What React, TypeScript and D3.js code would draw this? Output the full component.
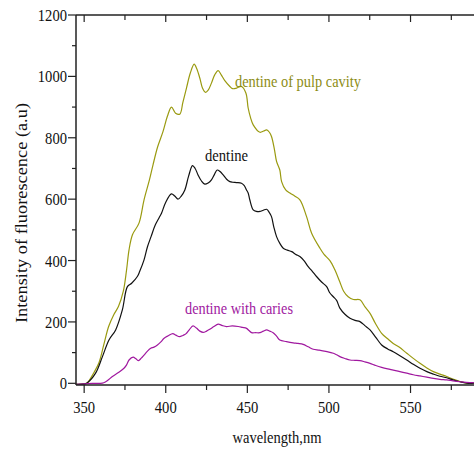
import React from "react";
import * as d3 from "d3";

const wavelengthPulp = [345, 350, 352, 356, 359, 362, 365, 368, 371, 374, 376, 377.5, 379.6, 383.6, 386.7, 390, 392.2, 395, 398.3, 401, 403.5, 406, 408.6, 410.5, 412.7, 415, 417.4, 419, 420.9, 422.5, 424.4, 426, 428, 430, 432.1, 434, 436.2, 439.3, 441, 443.4, 446.4, 449.1, 450.5, 452, 453.6, 457.7, 460, 461.8, 463.5, 464.8, 466.5, 467.9, 469.9, 471, 473.5, 476.1, 479, 482.2, 486.3, 489.4, 494.5, 497, 500.6, 503.7, 506.7, 509, 511.8, 515, 519, 522, 525.2, 528.5, 532.3, 536, 539.4, 543, 547.7, 551.5, 555.8, 560, 564, 568, 572.2, 576, 580.4, 585.5, 590];
const intensityPulp = [-3, -2, 2, 35, 66, 125, 185, 222, 250, 300, 370, 435, 484, 522, 598, 663, 712, 770, 820, 870, 900, 880, 877, 915, 962, 1010, 1040, 1025, 994, 962, 948, 955, 978, 1005, 1019, 1005, 986, 967, 960, 962, 967, 946, 897, 865, 842, 818, 822, 826, 818, 804, 765, 723, 695, 657, 630, 620, 610, 598, 543, 489, 440, 420, 400, 369, 330, 300, 282, 273, 272, 250, 228, 195, 163, 145, 130, 118, 98, 82, 65, 50, 38, 30, 22, 14, 6, 0, 1];

const wavelengthDentine = [345, 350, 352, 357, 361.2, 365.2, 369.3, 373.4, 376.5, 379.1, 382.6, 384, 386.7, 388.8, 391, 393.5, 396, 397.4, 400, 403.5, 405.5, 407.5, 409.5, 411.7, 414, 416.4, 418, 419.8, 421.8, 423.9, 426, 428, 429.8, 431.5, 433.3, 435.2, 437.3, 439.3, 441, 443.4, 446.4, 448, 449.5, 450.5, 451.5, 453.6, 455.5, 457.7, 459.8, 461.8, 463.3, 464.8, 466.2, 467.9, 470, 472, 474.5, 477.2, 479.7, 482.2, 484.7, 487.3, 489.8, 492.4, 495.5, 498.6, 500.5, 502.7, 504.7, 506.7, 509.8, 512.9, 516, 519, 522, 525.2, 528.7, 532.3, 536, 539.4, 543.5, 547.7, 551.7, 555.8, 560, 564, 568, 572.2, 576, 580.4, 585.5, 590];
const intensityDentine = [-3, -2, 2, 33, 87, 141, 174, 239, 315, 326, 348, 364, 402, 445, 478, 515, 540, 554, 590, 617, 610, 600, 610, 630, 675, 709, 700, 679, 660, 649, 653, 663, 680, 695, 690, 679, 665, 657, 655, 654, 652, 645, 630, 620, 598, 565, 560, 560, 564, 567, 558, 543, 510, 478, 455, 440, 434, 429, 420, 413, 400, 380, 365, 348, 330, 315, 295, 282, 270, 245, 225, 212, 205, 201, 188, 174, 150, 125, 112, 103, 90, 76, 62, 49, 38, 30, 23, 18, 11, 5, 0, 1];

const wavelengthCaries = [345, 350, 355, 360, 362, 364.5, 367.3, 371, 374.4, 376, 377.5, 380, 381.7, 383.3, 385, 386.7, 388.8, 390.8, 392.8, 394.9, 397, 399, 401.5, 404.3, 406.2, 408.5, 410.5, 412.3, 414.5, 416.7, 418.8, 420.9, 422.9, 425, 427, 429.5, 432.1, 434.7, 437.2, 440.8, 444.4, 447, 449.5, 451, 452.6, 455, 457.7, 459.8, 461.8, 463.8, 465.8, 468, 469.9, 474, 478.1, 481, 484.2, 487.3, 490.4, 494, 498, 502.7, 504.7, 506.7, 509.8, 512.9, 516, 519, 522, 525.2, 528.7, 532.3, 536, 539.4, 543.5, 547.7, 551.7, 555.8, 560, 564, 568, 572.2, 576, 580.4, 584, 588.5, 590];
const intensityCaries = [-3, -2, 0, 0, 2, 10, 22, 35, 49, 60, 76, 85, 80, 74, 82, 92, 105, 114, 118, 125, 135, 147, 155, 162, 157, 152, 156, 161, 175, 187, 180, 170, 166, 170, 176, 185, 193, 188, 185, 187, 185, 182, 179, 172, 165, 165, 165, 170, 174, 170, 165, 153, 141, 136, 132, 130, 127, 119, 111, 108, 104, 98, 93, 87, 81, 76, 75, 74, 70, 65, 58, 52, 47, 43, 38, 33, 28, 24, 20, 16, 13, 11, 8, 5, 3, 2, 1];

const xTicks = [350, 400, 450, 500, 550];
const xMinorTicks = [375, 425, 475, 525, 575];
const yTicks = [0, 200, 400, 600, 800, 1000, 1200];
const yMinorTicks = [100, 300, 500, 700, 900, 1100];

const seriesNames = ["dentine of pulp cavity", "dentine", "dentine with caries"];
const xTitle = "wavelength,nm";
const yTitle = "Intensity of fluorescence (a.u)";

const W = 474;
const H = 449;
const FONT = "'Liberation Serif', 'Times New Roman', serif";

export default function App() {
  const x = d3.scaleLinear().domain([345, 590]).range([76, 475.8]);
  const y = d3.scaleLinear().domain([-5.5, 1200]).range([385, 15]);
  const line = d3
    .line<[number, number]>()
    .x((d) => x(d[0]))
    .y((d) => y(d[1]))
    .curve(d3.curveCatmullRom.alpha(0.5));

  const mk = (ws: number[], vs: number[]) => ws.map((w, i) => [w, vs[i]] as [number, number]);
  const series = [
    { name: seriesNames[0], data: mk(wavelengthPulp, intensityPulp), color: "#9a9a10", text: "#8c8c14", lx: 235, ly: 87, lw: 126 },
    { name: seriesNames[1], data: mk(wavelengthDentine, intensityDentine), color: "#111111", text: "#111111", lx: 205, ly: 161, lw: 43 },
    { name: seriesNames[2], data: mk(wavelengthCaries, intensityCaries), color: "#a0189f", text: "#a0209f", lx: 185, ly: 314, lw: 108 },
  ];

  const axisColor = "#222";
  const left = 76;
  const bottom = 385;
  const top = 15;

  return (
    <svg
      width={W}
      height={H}
      style={{ position: "absolute", left: 0, top: 0, background: "#fff" }}
      fontFamily={FONT}
    >
      <defs>
        <clipPath id="plot">
          <rect x={left} y={top - 5} width={W - left} height={bottom - top + 5} />
        </clipPath>
      </defs>
      <rect width={W} height={H} fill="#fff" />

      <g clipPath="url(#plot)">
        {series.map((s) => (
          <path key={s.name} d={line(s.data) || ""} fill="none" stroke={s.color} strokeWidth={1.2} />
        ))}
      </g>

      {/* axes */}
      <line x1={left} x2={left} y1={top} y2={bottom} stroke={axisColor} strokeWidth={1.5} />
      <line x1={left} x2={W} y1={bottom} y2={bottom} stroke={axisColor} strokeWidth={1.5} />
      <line x1={left} x2={W} y1={top} y2={top} stroke={axisColor} strokeWidth={1.5} />

      {xTicks.map((t) => (
        <g key={"xt" + t}>
          <line x1={x(t)} x2={x(t)} y1={bottom} y2={bottom + 8} stroke={axisColor} strokeWidth={1.2} />
          <line x1={x(t)} x2={x(t)} y1={top} y2={top + 7} stroke={axisColor} strokeWidth={1.2} />
          <text
            transform={`translate(${x(t)},${413}) scale(0.86,1)`}
            textAnchor="middle"
            fontSize={17}
            fill="#111"
          >
            {t}
          </text>
        </g>
      ))}
      {xMinorTicks.map((t) => (
        <g key={"xm" + t}>
          <line x1={x(t)} x2={x(t)} y1={bottom} y2={bottom + 5} stroke={axisColor} strokeWidth={1.2} />
          <line x1={x(t)} x2={x(t)} y1={top} y2={top + 5} stroke={axisColor} strokeWidth={1.2} />
        </g>
      ))}
      {yTicks.map((t) => (
        <g key={"yt" + t}>
          <line x1={left - 8} x2={left} y1={y(t)} y2={y(t)} stroke={axisColor} strokeWidth={1.2} />
          <text
            transform={`translate(${67},${y(t) + 6}) scale(0.86,1)`}
            textAnchor="end"
            fontSize={17}
            fill="#111"
          >
            {t}
          </text>
        </g>
      ))}
      {yMinorTicks.map((t) => (
        <line key={"ym" + t} x1={left - 4} x2={left} y1={y(t)} y2={y(t)} stroke={axisColor} strokeWidth={1.2} />
      ))}

      <text
        x={277}
        y={443}
        textAnchor="middle"
        fontSize={16}
        fill="#111"
        textLength={89}
        lengthAdjust="spacingAndGlyphs"
      >
        {xTitle}
      </text>
      <text
        transform={`translate(27,213) rotate(-90)`}
        textAnchor="middle"
        fontSize={17}
        fill="#111"
        textLength={220}
        lengthAdjust="spacingAndGlyphs"
      >
        {yTitle}
      </text>

      {series.map((s) => (
        <text
          key={"lbl" + s.name}
          x={s.lx}
          y={s.ly}
          fontSize={16}
          fill={s.text}
          textLength={s.lw}
          lengthAdjust="spacingAndGlyphs"
        >
          {s.name}
        </text>
      ))}
    </svg>
  );
}
